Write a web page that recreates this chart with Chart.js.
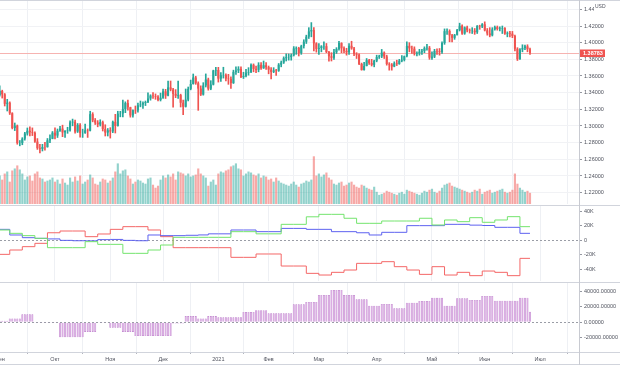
<!DOCTYPE html>
<html>
<head>
<meta charset="utf-8">
<script src="https://cdn.jsdelivr.net/npm/chart.js@4.4.0/dist/chart.umd.min.js"></script>
<style>
  html, body { margin: 0; padding: 0; background: #fff; }
  #wrap { position: relative; width: 620px; height: 365px; overflow: hidden; }
  canvas { position: absolute; left: 0; }
  #c1 { top: 0; }
  #c2 { top: 205px; }
  #c3 { top: 282px; }
  .hl { position: absolute; left: 0; width: 620px; height: 1px; background: #d1d4dc; }
  .vl { position: absolute; top: 0; left: 579px; width: 1px; height: 365px; background: #c8cad1; }
</style>
</head>
<body>
<div id="wrap">
  <canvas id="c1" width="620" height="205"></canvas>
  <canvas id="c2" width="620" height="77"></canvas>
  <canvas id="c3" width="620" height="83"></canvas>
  <div class="hl" style="top:0"></div>
  <div class="hl" style="top:205px"></div>
  <div class="hl" style="top:282px"></div>
  <div class="hl" style="top:352px"></div>
  <div class="hl" style="top:364px"></div>
  <div class="vl"></div>
</div>
<script>
// ── Data: GBP/USD daily, 1 Sep 2020 – 25 Jun 2021 (bar index 0 = 1 Sep) ──

var monthIdx = [0, 22, 44, 65, 87, 107, 127, 150, 172, 193, 215];
var monthNames = ['Сен', 'Окт', 'Ноя', 'Дек', '2021', 'Фев', 'Мар', 'Апр', 'Май', 'Июн', 'Июл'];

var priceTicks = [1.22, 1.24, 1.26, 1.28, 1.30, 1.32, 1.34, 1.36, 1.38, 1.40, 1.42, 1.44];
var cotTicks = [-40000, -20000, 0, 20000, 40000];
var histTicks = [-20000, 0, 20000, 40000];
var lastPrice = 1.38783;

var opens = [
  // Sep
  1.3370,1.3420,1.3380,1.3266,1.3280,1.3153,1.2976,1.3005,1.2795,1.2795,1.2848,1.2910,1.2943,1.2925,1.2918,1.2813,1.2734,1.2725,1.2748,1.2747,1.2828,1.2846,
  // Oct
  1.2920,1.2885,1.2943,1.2969,1.2923,1.2942,1.2947,1.3043,1.3051,1.2933,1.3014,1.2915,1.2916,1.2948,1.2944,1.3142,1.3068,1.3041,1.3018,1.3046,1.2963,1.2921,
  // Nov
  1.2948,1.2935,1.3050,1.2999,1.3149,1.3150,1.3203,1.3275,1.3225,1.3127,1.3190,1.3187,1.3249,1.3257,1.3276,1.3287,1.3330,1.3365,1.3359,1.3352,1.3313,
  // Dec
  1.3339,1.3416,1.3364,1.3463,1.3437,1.3386,1.3363,1.3371,1.3279,1.3231,1.3316,1.3446,1.3504,1.3582,1.3513,1.3449,1.3377,1.3486,1.3558,1.3448,1.3497,1.3666,
  // Jan
  1.3672,1.3568,1.3610,1.3613,1.3569,1.3565,1.3515,1.3650,1.3665,1.3686,1.3587,1.3599,1.3641,1.3647,1.3734,1.3685,1.3674,1.3734,1.3693,1.3729,
  // Feb
  1.3706,1.3676,1.3650,1.3667,1.3662,1.3736,1.3761,1.3814,1.3826,1.3827,1.3848,1.3931,1.3936,1.3876,1.3959,1.4012,1.4072,1.4135,1.4151,1.3992,
  // Mar
  1.3925,1.3936,1.3956,1.3958,1.3888,1.3836,1.3819,1.3885,1.3923,1.3995,1.3932,1.3901,1.3885,1.3963,1.3930,1.3864,1.3856,1.3744,1.3671,1.3720,1.3790,1.3755,1.3734,
  // Apr
  1.3783,1.3827,1.3835,1.3881,1.3834,1.3743,1.3737,1.3714,1.3752,1.3745,1.3784,1.3793,1.3837,1.3962,1.3932,1.3928,1.3867,1.3873,1.3891,1.3900,1.3934,1.3939,
  // May
  1.3820,1.3832,1.3900,1.3897,1.3888,1.3995,1.4138,1.4140,1.4088,1.4058,1.4094,1.4150,1.4202,1.4109,1.4183,1.4150,1.4144,1.4145,1.4125,1.4203,1.4195,
  // Jun
  1.4221,1.4147,1.4111,1.4088,1.4159,1.4186,1.4164,1.4169,1.4175,1.4109,1.4117,1.4108,1.4080,1.3927,1.3802,1.3918,1.3935,1.3956,1.3921
];
var highs = [
  1.3482,1.3430,1.3390,1.3320,1.3290,1.3160,1.3036,1.3012,1.2826,1.2860,1.2923,1.2976,1.2990,1.2977,1.2931,1.2849,1.2779,1.2780,1.2804,1.2850,1.2895,1.2934,
  1.2977,1.2964,1.2995,1.3010,1.2945,1.2985,1.3063,1.3083,1.3070,1.3030,1.3030,1.2962,1.3022,1.2965,1.3177,1.3160,1.3090,1.3065,1.3075,1.3060,1.3015,1.2970,
  1.2980,1.3060,1.3140,1.3177,1.3176,1.3312,1.3290,1.3310,1.3226,1.3195,1.3240,1.3275,1.3300,1.3290,1.3300,1.3398,1.3375,1.3400,1.3385,1.3365,1.3395,
  1.3443,1.3440,1.3540,1.3540,1.3452,1.3437,1.3540,1.3382,1.3310,1.3444,1.3468,1.3551,1.3624,1.3597,1.3530,1.3482,1.3520,1.3625,1.3575,1.3544,1.3670,1.3704,
  1.3704,1.3640,1.3705,1.3626,1.3620,1.3590,1.3670,1.3710,1.3712,1.3710,1.3645,1.3680,1.3700,1.3746,1.3745,1.3720,1.3760,1.3760,1.3780,1.3760,
  1.3720,1.3700,1.3700,1.3680,1.3750,1.3780,1.3830,1.3866,1.3865,1.3865,1.3953,1.3950,1.3945,1.3970,1.4035,1.4090,1.4180,1.4241,1.4180,1.4000,
  1.3990,1.3965,1.4010,1.3990,1.3895,1.3880,1.3920,1.3940,1.4015,1.4000,1.3950,1.3933,1.3990,1.4017,1.3945,1.3880,1.3865,1.3755,1.3765,1.3810,1.3800,1.3800,1.3790,
  1.3850,1.3850,1.3919,1.3890,1.3850,1.3760,1.3750,1.3770,1.3790,1.3800,1.3845,1.3840,1.4009,1.4000,1.3960,1.3950,1.3890,1.3920,1.3920,1.3950,1.3980,1.3955,
  1.3890,1.3920,1.3925,1.3930,1.4010,1.4165,1.4167,1.4155,1.4100,1.4100,1.4160,1.4234,1.4215,1.4190,1.4200,1.4165,1.4180,1.4170,1.4205,1.4210,1.4230,
  1.4250,1.4170,1.4180,1.4180,1.4200,1.4200,1.4190,1.4200,1.4180,1.4130,1.4135,1.4135,1.4090,1.3940,1.3930,1.3975,1.3970,1.3975,1.3935
];
var lows = [
  1.3357,1.3335,1.3240,1.3180,1.3138,1.2965,1.2945,1.2781,1.2762,1.2775,1.2829,1.2890,1.2880,1.2885,1.2803,1.2719,1.2676,1.2700,1.2710,1.2745,1.2800,1.2846,
  1.2846,1.2862,1.2935,1.2872,1.2864,1.2912,1.2937,1.3002,1.2913,1.2922,1.2867,1.2863,1.2912,1.2863,1.2940,1.3050,1.3018,1.2990,1.3000,1.2940,1.2880,1.2880,
  1.2855,1.2920,1.2916,1.2999,1.3110,1.3110,1.3160,1.3190,1.3106,1.3105,1.3150,1.3167,1.3230,1.3210,1.3245,1.3280,1.3310,1.3330,1.3320,1.3300,1.3300,
  1.3330,1.3330,1.3360,1.3421,1.3226,1.3340,1.3330,1.3228,1.3135,1.3227,1.3301,1.3434,1.3502,1.3500,1.3188,1.3365,1.3370,1.3468,1.3430,1.3435,1.3492,1.3605,
  1.3527,1.3536,1.3575,1.3540,1.3500,1.3450,1.3510,1.3620,1.3640,1.3580,1.3570,1.3590,1.3610,1.3640,1.3650,1.3640,1.3650,1.3680,1.3690,1.3680,
  1.3626,1.3566,1.3640,1.3606,1.3655,1.3710,1.3750,1.3780,1.3790,1.3790,1.3840,1.3860,1.3840,1.3860,1.3935,1.3990,1.4050,1.4070,1.3900,1.3886,
  1.3860,1.3890,1.3920,1.3880,1.3778,1.3780,1.3800,1.3870,1.3910,1.3880,1.3880,1.3850,1.3860,1.3920,1.3845,1.3810,1.3735,1.3670,1.3670,1.3720,1.3740,1.3720,1.3710,
  1.3770,1.3810,1.3820,1.3810,1.3730,1.3670,1.3670,1.3710,1.3725,1.3740,1.3770,1.3780,1.3830,1.3890,1.3870,1.3850,1.3840,1.3850,1.3860,1.3880,1.3910,1.3800,
  1.3800,1.3820,1.3860,1.3850,1.3870,1.3980,1.4100,1.4010,1.4010,1.4040,1.4090,1.4140,1.4100,1.4100,1.4130,1.4115,1.4110,1.4100,1.4110,1.4160,1.4180,
  1.4140,1.4090,1.4070,1.4080,1.4150,1.4150,1.4140,1.4110,1.4100,1.4070,1.4070,1.4060,1.3900,1.3786,1.3800,1.3890,1.3915,1.3890,1.3860
];
var closes = [
  1.3422,1.3380,1.3266,1.3280,1.3153,1.2976,1.3005,1.2795,1.2795,1.2848,1.2910,1.2943,1.2925,1.2918,1.2813,1.2734,1.2725,1.2748,1.2747,1.2828,1.2846,1.2920,
  1.2885,1.2943,1.2969,1.2923,1.2942,1.2947,1.3043,1.3051,1.2933,1.3014,1.2915,1.2916,1.2948,1.2944,1.3142,1.3068,1.3041,1.3018,1.3046,1.2963,1.2921,1.2948,
  1.2935,1.3050,1.2999,1.3149,1.3150,1.3203,1.3275,1.3225,1.3127,1.3190,1.3187,1.3249,1.3257,1.3276,1.3287,1.3330,1.3365,1.3359,1.3352,1.3313,1.3339,
  1.3416,1.3364,1.3463,1.3437,1.3386,1.3363,1.3371,1.3279,1.3231,1.3316,1.3446,1.3504,1.3582,1.3513,1.3449,1.3377,1.3486,1.3558,1.3448,1.3497,1.3666,1.3672,
  1.3568,1.3610,1.3613,1.3569,1.3565,1.3515,1.3650,1.3665,1.3686,1.3587,1.3599,1.3641,1.3647,1.3734,1.3685,1.3674,1.3734,1.3693,1.3729,1.3706,
  1.3676,1.3650,1.3667,1.3662,1.3736,1.3761,1.3814,1.3826,1.3827,1.3848,1.3931,1.3936,1.3876,1.3959,1.4012,1.4072,1.4135,1.4151,1.3992,1.3925,
  1.3936,1.3956,1.3958,1.3888,1.3836,1.3819,1.3885,1.3923,1.3995,1.3932,1.3901,1.3885,1.3963,1.3930,1.3864,1.3856,1.3744,1.3671,1.3720,1.3790,1.3755,1.3734,1.3783,
  1.3827,1.3835,1.3881,1.3834,1.3743,1.3737,1.3714,1.3752,1.3745,1.3784,1.3793,1.3837,1.3962,1.3932,1.3928,1.3867,1.3873,1.3891,1.3900,1.3934,1.3939,1.3820,
  1.3832,1.3900,1.3897,1.3888,1.3995,1.4138,1.4140,1.4088,1.4058,1.4094,1.4150,1.4202,1.4109,1.4183,1.4150,1.4144,1.4145,1.4125,1.4203,1.4195,1.4221,
  1.4147,1.4111,1.4088,1.4159,1.4186,1.4164,1.4169,1.4175,1.4109,1.4117,1.4108,1.4080,1.3927,1.3802,1.3918,1.3935,1.3956,1.3921,1.38783
];
var volumes = [
  140,120,150,160,110,165,175,190,170,150,120,135,140,115,150,160,130,125,110,115,120,130,
  110,120,100,125,105,95,130,110,135,115,140,100,110,120,145,130,100,95,110,125,120,105,
  115,130,160,200,150,165,170,140,125,100,110,120,115,105,100,125,130,95,80,90,120,
  140,130,145,135,150,120,160,155,150,140,150,135,140,145,175,150,140,130,90,110,120,95,
  150,160,155,165,170,185,190,200,175,170,140,150,160,155,145,140,150,130,140,135,
  120,125,110,130,115,105,100,95,90,100,110,95,85,100,105,115,110,120,235,140,
  150,135,145,155,130,120,100,95,105,110,90,95,105,110,95,85,80,95,90,80,75,70,85,
  60,45,50,55,65,60,55,50,45,55,60,50,70,65,60,55,50,45,55,65,60,70,
  75,60,55,65,80,95,100,105,90,85,80,75,70,65,60,55,60,70,65,75,50,
  60,65,70,55,60,65,70,75,60,55,60,70,150,100,80,70,60,65,55
];

// weekly COT report values, each starting at a bar index
var cotStarts = [0,4,9,14,19,24,29,34,39,44,49,54,59,64,69,74,79,83,87,92,97,102,107,112,117,122,127,132,137,142,147,152,157,162,167,172,177,182,187,192,197,202,207];
var cotGreen = [13800,9200,6000,2300,-10600,-10600,-10600,-2300,-6000,-6000,-18400,-18400,-13800,-6900,3700,3700,3700,3700,3700,11500,11500,8500,8500,21600,21600,32000,35400,35400,30000,23000,23000,26200,26200,26200,30000,20700,27600,25300,30800,24400,27600,32200,18400];
var cotBlue = [14700,6900,3200,2300,1500,-500,-1000,-1200,500,800,-500,-1000,6900,6000,6000,6500,7000,8500,8500,13800,13800,11500,11500,16000,16000,14700,14700,11500,11500,10000,6900,10600,10600,19800,19800,19800,21600,21600,20500,20000,17500,17500,9200];
var cotRed = [-19800,-13800,-9200,-4600,10000,12400,12400,4600,8300,14700,18400,18400,13800,4600,-10600,-10600,-10600,-10600,-10600,-23900,-23900,-19300,-19300,-35900,-35900,-46000,-48300,-44600,-41400,-32200,-32200,-29900,-36800,-41400,-47400,-36800,-48300,-44600,-49200,-42800,-44600,-49200,-25300];

var histStarts = [0,4,9,14,19,24,29,34,39,44,49,54,59,64,69,74,79,83,87,92,97,102,107,112,117,122,127,132,137,142,147,152,157,162,167,172,177,182,187,192,197,202,207,211];
var histValues = [2000,5000,10200,-1000,-1000,-19200,-19200,-12400,-800,-6900,-12400,-17600,-17600,-17600,-1500,8000,5000,8000,6400,6400,13300,15600,11500,11500,23000,26000,35000,41400,35000,29500,21300,23500,17900,25100,27300,31500,21300,30700,28600,33700,27700,27700,31500,13600];

// ── Styling helpers ──

var UP = '#26a69a', DOWN = '#ef5350';
var TXT = '#50535e';
var FONT = { family: '"Liberation Sans", Arial, sans-serif', size: 5.5 };
var lastBar = closes.length - 1;

function xAxis(showLabels) {
  return {
    type: 'linear', min: 0.12, max: 230.5, offset: false,
    afterBuildTicks: function(s) { s.ticks = monthIdx.map(function(v) { return { value: v }; }); },
    ticks: {
      display: showLabels, autoSkip: false, maxRotation: 0, minRotation: 0,
      color: TXT, font: FONT, padding: 2,
      callback: function(v, i) { return monthNames[i]; }
    },
    grid: { color: '#eef0f4', drawTicks: showLabels, tickLength: 2, tickColor: '#b2b5be' },
    border: { display: false },
    afterFit: function(s) {
      s.height = showLabels ? 13 : 0;
      s.paddingLeft = 0; s.paddingRight = 0;
    }
  };
}

function yAxis(min, max, vals, fmt, gridColor) {
  return {
    position: 'right', min: min, max: max,
    afterBuildTicks: function(s) { s.ticks = vals.map(function(v) { return { value: v }; }); },
    ticks: { color: TXT, font: FONT, padding: 2, callback: fmt },
    grid: { color: gridColor, tickColor: '#9598a1', tickLength: 3 },
    border: { display: false },
    afterFit: function(s) {
      s.width = 41;
      s.paddingTop = 0; s.paddingBottom = 0;
    }
  };
}

function baseOptions() {
  return {
    responsive: false, animation: false, devicePixelRatio: 1,
    layout: { padding: { top: 1, bottom: 1, left: 0, right: 0 } },
    plugins: { legend: { display: false }, tooltip: { enabled: false } }
  };
}

var zeroLine = {
  id: 'zeroLine',
  beforeDatasetsDraw: function(chart) {
    var a = chart.chartArea, y = Math.round(chart.scales.y.getPixelForValue(0)) + 0.5;
    var ctx = chart.ctx;
    ctx.save();
    ctx.strokeStyle = '#9a9da6';
    ctx.lineWidth = 1;
    ctx.setLineDash([2, 2]);
    ctx.beginPath(); ctx.moveTo(a.left, y); ctx.lineTo(a.right, y); ctx.stroke();
    ctx.restore();
  }
};

function stepPoints(starts, vals) {
  var pts = starts.map(function(s, k) { return { x: s, y: vals[k] }; });
  pts.push({ x: lastBar, y: vals[vals.length - 1] });
  return pts;
}

// ── Price + volume pane ──

var candleColors = closes.map(function(c, i) { return c >= opens[i] ? UP : DOWN; });
var volColors = closes.map(function(c, i) {
  return c >= opens[i] ? 'rgba(38,166,154,0.5)' : 'rgba(239,83,80,0.5)';
});

var priceLine = {
  id: 'priceLine',
  beforeDatasetsDraw: function(chart) {
    var a = chart.chartArea, y = Math.round(chart.scales.y.getPixelForValue(lastPrice)) + 0.5;
    var ctx = chart.ctx;
    ctx.save();
    ctx.strokeStyle = '#f6b3b1';
    ctx.lineWidth = 1;
    ctx.beginPath(); ctx.moveTo(a.left, y); ctx.lineTo(a.right, y); ctx.stroke();
    ctx.restore();
  },
  afterDraw: function(chart) {
    var a = chart.chartArea, y = chart.scales.y.getPixelForValue(lastPrice);
    var ctx = chart.ctx;
    ctx.save();
    ctx.fillStyle = DOWN;
    ctx.fillRect(a.right + 1, Math.round(y) - 3.5, 25, 7.5);
    ctx.fillStyle = '#fff';
    ctx.font = 'bold 5.5px "Liberation Sans", Arial, sans-serif';
    ctx.textBaseline = 'middle';
    ctx.fillText(lastPrice.toFixed(5), a.right + 4, y + 0.3);
    // currency label over the top tick
    ctx.fillStyle = '#fff';
    ctx.fillRect(a.right + 15, 2, 14, 10);
    ctx.fillStyle = TXT;
    ctx.font = '5px "Liberation Sans", Arial, sans-serif';
    ctx.fillText('USD', a.right + 16, 6.5);
    ctx.restore();
  }
};

new Chart(document.getElementById('c1'), {
  type: 'bar',
  data: {
    datasets: [
      {
        data: closes.map(function(c, i) { return { x: i, y: [opens[i], c] }; }),
        backgroundColor: candleColors, grouped: false, order: 1,
        barPercentage: 0.8, categoryPercentage: 1
      },
      {
        data: closes.map(function(c, i) { return { x: i, y: [lows[i], highs[i]] }; }),
        backgroundColor: candleColors, grouped: false, order: 2, barThickness: 1
      },
      {
        data: volumes.map(function(v, i) { return { x: i, y: v }; }),
        backgroundColor: volColors, yAxisID: 'yv', grouped: false, order: 3,
        barPercentage: 0.85, categoryPercentage: 1
      }
    ]
  },
  options: Object.assign(baseOptions(), {
    scales: {
      x: xAxis(false),
      y: yAxis(1.2064, 1.45, priceTicks, function(v) { return v.toFixed(5); }, '#f1f2f5'),
      yv: { display: false, min: 0, max: 1000 }
    }
  }),
  plugins: [priceLine]
});

// ── COT positions pane ──

new Chart(document.getElementById('c2'), {
  type: 'line',
  data: {
    datasets: [
      { data: stepPoints(cotStarts, cotGreen), borderColor: '#74e46e', borderWidth: 1, pointRadius: 0, stepped: true },
      { data: stepPoints(cotStarts, cotBlue), borderColor: '#5e62f0', borderWidth: 1, pointRadius: 0, stepped: true },
      { data: stepPoints(cotStarts, cotRed), borderColor: '#f46767', borderWidth: 1, pointRadius: 0, stepped: true }
    ]
  },
  options: Object.assign(baseOptions(), {
    scales: {
      x: xAxis(false),
      y: yAxis(-56550, 46900, cotTicks, function(v) { return v === 0 ? '0' : (v / 1000) + 'K'; }, 'rgba(0,0,0,0)')
    }
  }),
  plugins: [zeroLine]
});

// ── Net position histogram pane ──

var histDaily = closes.map(function(c, i) {
  var k = 0;
  while (k + 1 < histStarts.length && histStarts[k + 1] <= i) k++;
  return { x: i, y: histValues[k] };
});

new Chart(document.getElementById('c3'), {
  type: 'bar',
  data: {
    datasets: [{
      data: histDaily,
      backgroundColor: '#d59fde', borderColor: '#b978c8', borderWidth: 0.6,
      barPercentage: 0.8, categoryPercentage: 1
    }]
  },
  options: Object.assign(baseOptions(), {
    layout: { padding: { top: 1, bottom: 0, left: 0, right: 0 } },
    scales: {
      x: xAxis(true),
      y: yAxis(-38080, 50385, histTicks, function(v) { return v.toFixed(5); }, 'rgba(0,0,0,0)')
    }
  }),
  plugins: [zeroLine]
});
</script>
</body>
</html>
